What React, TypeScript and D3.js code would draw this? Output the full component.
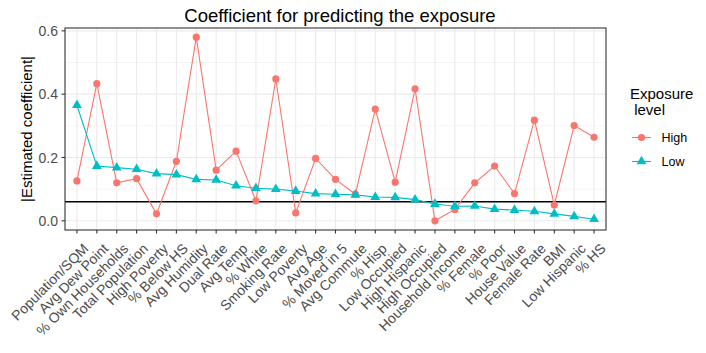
import React, { useEffect, useRef } from "react";
import * as d3 from "d3";

const categories = [
  "Population/SQM", "Avg Dew Point", "% Own Households", "Total Population", "High Poverty",
  "% Below HS", "Avg Humidity", "Dual Rate", "Avg Temp", "% White", "Smoking Rate",
  "Low Poverty", "Avg Age", "% Moved in 5", "Avg Commute", "% Hisp", "Low Occupied",
  "High Hispanic", "High Occupied", "Household Income", "% Female", "% Poor",
  "House Value", "Female Rate", "BMI", "Low Hispanic", "% HS",
];
const highValues = [
  0.126, 0.433, 0.12, 0.133, 0.022, 0.188, 0.58, 0.16, 0.22, 0.063, 0.448,
  0.025, 0.197, 0.131, 0.084, 0.353, 0.122, 0.417, 0.0, 0.036, 0.12, 0.173,
  0.086, 0.318, 0.05, 0.301, 0.264,
];
const lowValues = [
  0.365, 0.173, 0.168, 0.163, 0.149, 0.146, 0.131, 0.129, 0.111, 0.103, 0.1,
  0.094, 0.086, 0.084, 0.082, 0.075, 0.074, 0.067, 0.053, 0.046, 0.047, 0.037,
  0.034, 0.03, 0.022, 0.014, 0.005,
];
const threshold = 0.06;
const yMajor = [0, 0.2, 0.4, 0.6];
const yMinor = [0.1, 0.3, 0.5];
const seriesNames = ["High", "Low"];
const seriesColors = ["#F8766D", "#00BFC4"];

const W = 706, H = 353;
const M = { left: 65, right: 606, top: 28, bottom: 230 };
const FONT = "'Liberation Sans', Arial, Helvetica, sans-serif";

export default function App() {
  const ref = useRef<SVGSVGElement>(null);
  useEffect(() => {
    const svg = d3.select(ref.current);
    svg.selectAll("*").remove();
    const n = categories.length;
    const x = d3.scaleLinear().domain([-0.6, n - 1 + 0.6]).range([M.left, M.right]);
    const y = d3.scaleLinear().domain([-0.029, 0.609]).range([M.bottom, M.top]);

    svg.append("rect").attr("width", W).attr("height", H).attr("fill", "white");
    const g = svg.append("g");
    // grid
    yMinor.forEach(v => g.append("line").attr("x1", M.left).attr("x2", M.right).attr("y1", y(v)).attr("y2", y(v)).attr("stroke", "#EBEBEB").attr("stroke-width", 0.55));
    yMajor.forEach(v => g.append("line").attr("x1", M.left).attr("x2", M.right).attr("y1", y(v)).attr("y2", y(v)).attr("stroke", "#EBEBEB").attr("stroke-width", 1.1));
    categories.forEach((c, i) => g.append("line").attr("x1", x(i)).attr("x2", x(i)).attr("y1", M.top).attr("y2", M.bottom).attr("stroke", "#EBEBEB").attr("stroke-width", 1.1));

    // threshold
    g.append("line").attr("x1", M.left).attr("x2", M.right).attr("y1", y(threshold)).attr("y2", y(threshold)).attr("stroke", "black").attr("stroke-width", 1.5);

    const line = d3.line<number>().x((d, i) => x(i)).y(d => y(d));
    const data = [highValues, lowValues];
    data.forEach((vals, si) => {
      g.append("path").attr("d", line(vals)!).attr("fill", "none").attr("stroke", seriesColors[si]).attr("stroke-width", 1.1);
    });
    const tri = d3.symbol().type(d3.symbolTriangle).size(42);
    highValues.forEach((v, i) => g.append("circle").attr("cx", x(i)).attr("cy", y(v)).attr("r", 3.6).attr("fill", seriesColors[0]));
    lowValues.forEach((v, i) => g.append("path").attr("d", tri()!).attr("transform", `translate(${x(i)},${y(v)})`).attr("fill", seriesColors[1]));

    // panel border
    g.append("rect").attr("x", M.left).attr("y", M.top).attr("width", M.right - M.left).attr("height", M.bottom - M.top).attr("fill", "none").attr("stroke", "#333333").attr("stroke-width", 1.1);

    // y axis
    yMajor.forEach(v => {
      g.append("line").attr("x1", M.left - 3.5).attr("x2", M.left).attr("y1", y(v)).attr("y2", y(v)).attr("stroke", "#333333").attr("stroke-width", 1.1);
      g.append("text").attr("x", M.left - 7).attr("y", y(v)).attr("dy", "0.36em").attr("text-anchor", "end").attr("font-size", 14).attr("fill", "#4D4D4D").attr("font-family", FONT).text(d3.format(".1f")(v));
    });
    // x axis
    categories.forEach((c, i) => {
      g.append("line").attr("x1", x(i)).attr("x2", x(i)).attr("y1", M.bottom).attr("y2", M.bottom + 3.5).attr("stroke", "#333333").attr("stroke-width", 1.1);
      g.append("text").attr("transform", `translate(${x(i) + 5.5},${M.bottom + 12.5}) rotate(-45)`).attr("text-anchor", "end").attr("dy", "0.7em").attr("font-size", 14).attr("fill", "#4D4D4D").attr("font-family", FONT).text(c);
    });

    // titles
    svg.append("text").attr("x", 340).attr("y", 22).attr("text-anchor", "middle").attr("font-size", 18.5).attr("font-family", FONT).attr("fill", "black").text("Coefficient for predicting the exposure");
    svg.append("text").attr("transform", `translate(32,${(M.top + M.bottom) / 2}) rotate(-90)`).attr("text-anchor", "middle").attr("font-size", 15).attr("font-family", FONT).attr("fill", "black").text("|Estimated coefficient|");

    // legend
    const lg = svg.append("g");
    lg.append("text").attr("x", 630).attr("y", 99).attr("font-size", 15).attr("font-family", FONT).text("Exposure");
    lg.append("text").attr("x", 630).attr("y", 115).attr("font-size", 15).attr("font-family", FONT).attr("xml:space", "preserve").text(" level");
    seriesNames.forEach((s, i) => {
      const ky = 137.5 + i * 24;
      lg.append("line").attr("x1", 632).attr("x2", 651).attr("y1", ky).attr("y2", ky).attr("stroke", seriesColors[i]).attr("stroke-width", 1.1);
      if (i === 0) lg.append("circle").attr("cx", 641.5).attr("cy", ky).attr("r", 3.6).attr("fill", seriesColors[i]);
      else lg.append("path").attr("d", tri()!).attr("transform", `translate(641.5,${ky})`).attr("fill", seriesColors[i]);
      lg.append("text").attr("x", 661.5).attr("y", ky).attr("dy", "0.36em").attr("font-size", 12.5).attr("font-family", FONT).text(s);
    });
  }, []);
  return (
    <div style={{ position: "absolute", left: 0, top: 0 }}>
      <svg ref={ref} width={W} height={H} style={{ display: "block" }} />
    </div>
  );
}
